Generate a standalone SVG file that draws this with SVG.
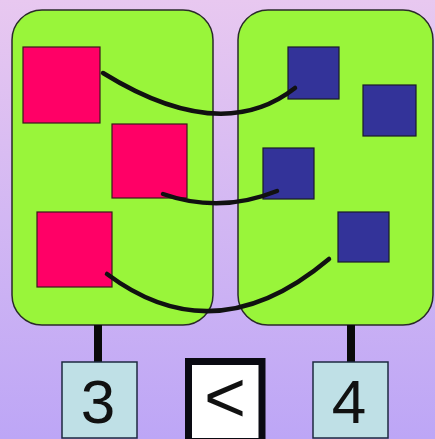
<svg xmlns="http://www.w3.org/2000/svg" width="435" height="439" viewBox="0 0 435 439">
<defs>
<linearGradient id="bg" x1="0" y1="0" x2="0" y2="1">
<stop offset="0" stop-color="#e8c8f0"/>
<stop offset="1" stop-color="#bda6f6"/>
</linearGradient>
<style>
.panel{fill:#99f53a;stroke:#2a2a2a;stroke-width:1.5}
.pink{fill:#ff0066;stroke:#3a1a1a;stroke-width:1.2}
.blue{fill:#333399;stroke:#1a1a2a;stroke-width:1.2}
.arc{fill:none;stroke:#111;stroke-width:4.5;stroke-linecap:round}
.stem{stroke:#0a0a0a;stroke-width:8}
.num{fill:#bfe0e6;stroke:#1e2a40;stroke-width:1.5}
.lt{fill:#ffffff;stroke:#0a0a12;stroke-width:7}
.txt{font-family:"Liberation Sans",Arial,sans-serif;fill:#111;text-anchor:middle}
</style>
</defs>
<rect x="0" y="0" width="435" height="439" fill="url(#bg)"/>
<g id="set-left">
<rect class="panel" x="12" y="10" width="201" height="315" rx="30" ry="30"/>
<rect class="pink" x="23" y="47" width="77" height="76"/>
<rect class="pink" x="112" y="124" width="75" height="74"/>
<rect class="pink" x="37" y="212" width="75" height="75"/>
</g>
<g id="set-right">
<rect class="panel" x="238" y="10" width="195" height="315" rx="30" ry="30"/>
<rect class="blue" x="288" y="47" width="51" height="52"/>
<rect class="blue" x="363" y="85" width="53" height="51"/>
<rect class="blue" x="263" y="148" width="51" height="51"/>
<rect class="blue" x="338" y="212" width="51" height="50"/>
</g>
<g id="connectors">
<path class="arc" d="M103,73 Q221,146 295,88"/>
<path class="arc" d="M163,194 Q220,214 277,191"/>
<path class="arc" d="M107,274 Q215,355 329,259"/>
<line class="stem" x1="98" y1="325" x2="98" y2="362"/>
<line class="stem" x1="351" y1="325" x2="351" y2="362"/>
</g>
<g id="count-left">
<rect class="num" x="62" y="362" width="75" height="76"/>
<text class="txt" x="98" y="423" font-size="62">3</text>
</g>
<g id="compare">
<rect class="lt" x="188.5" y="361.5" width="73.5" height="80"/>
<text class="txt" x="225" y="422" font-size="72">&lt;</text>
</g>
<g id="count-right">
<rect class="num" x="313" y="362" width="75" height="76"/>
<text class="txt" x="349" y="423" font-size="62">4</text>
</g>
</svg>
